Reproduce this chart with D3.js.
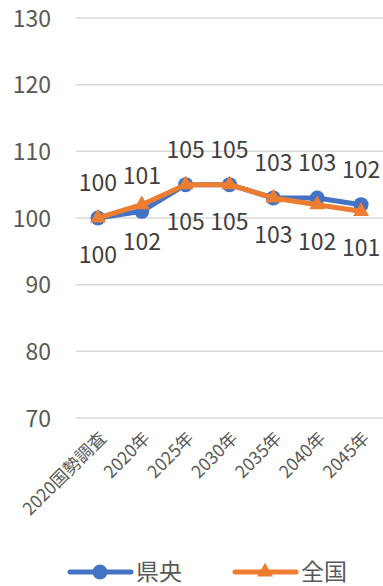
<!DOCTYPE html>
<html>
<head>
<meta charset="utf-8">
<script src="https://cdn.jsdelivr.net/npm/d3@7"></script>
<style>
  html, body { margin: 0; padding: 0; background: #ffffff; }
  svg { display: block; }
  text { font-family: "Noto Sans CJK JP", "Noto Sans", sans-serif; }
</style>
</head>
<body>
<svg id="chart" width="383" height="586"></svg>
<script>
// Categories along the x axis
const categories = ["2020国勢調査", "2020年", "2025年", "2030年", "2035年", "2040年", "2045年"];
// Index values per series
const kenouValues = [100, 101, 105, 105, 103, 103, 102];
const zenkokuValues = [100, 102, 105, 105, 103, 102, 101];
const seriesNames = ["県央", "全国"];
// Y axis ticks
const yTicks = [70, 80, 90, 100, 110, 120, 130];

const W = 383, H = 586;
const plot = { left: 76, right: 383, top: 18, bottom: 418 };
const blue = "#4472C4", orange = "#ED7D31";

const svg = d3.select("#chart");

const x = d3.scaleBand().domain(categories).range([plot.left, plot.right]);
const y = d3.scaleLinear().domain([70, 130]).range([plot.bottom, plot.top]);
const cx = c => x(c) + x.bandwidth() / 2;

// Horizontal gridlines
svg.append("g")
  .selectAll("line")
  .data(yTicks)
  .join("line")
  .attr("x1", plot.left).attr("x2", plot.right)
  .attr("y1", d => y(d)).attr("y2", d => y(d))
  .attr("stroke", "#d9d9d9").attr("stroke-width", 1.5);

// Y axis labels
const yAxis = d3.axisLeft(y).tickValues(yTicks).tickSize(0).tickPadding(0);
const yg = svg.append("g").attr("transform", "translate(51,0)").call(yAxis);
yg.select(".domain").remove();
yg.selectAll("text")
  .attr("font-family", "'Noto Sans CJK JP', sans-serif")
  .attr("font-size", 23)
  .attr("fill", "#595959")
  .attr("dy", "0.35em");

// X axis labels, rotated
const xAxis = d3.axisBottom(x).tickSize(0).tickPadding(0);
const xg = svg.append("g").call(xAxis);
xg.select(".domain").remove();
xg.selectAll(".tick").attr("transform", d => `translate(${cx(d) + 5},435)`);
xg.selectAll("text")
  .attr("font-family", "'Noto Sans CJK JP', sans-serif")
  .attr("font-size", 17.5)
  .attr("fill", "#595959")
  .attr("text-anchor", "end")
  .attr("dy", "0.35em")
  .attr("y", 0)
  .attr("transform", "rotate(-45)");

const line = d3.line().x((d, i) => cx(categories[i])).y(d => y(d));

function drawSeries(values, color, marker) {
  const g = svg.append("g");
  g.append("path")
    .datum(values)
    .attr("d", line)
    .attr("fill", "none")
    .attr("stroke", color)
    .attr("stroke-width", 5)
    .attr("stroke-linejoin", "round");
  if (marker === "circle") {
    g.selectAll("circle")
      .data(values)
      .join("circle")
      .attr("cx", (d, i) => cx(categories[i]))
      .attr("cy", d => y(d))
      .attr("r", 7.5)
      .attr("fill", color);
  } else {
    const tri = d3.symbol().type(d3.symbolTriangle).size(110);
    g.selectAll("path.m")
      .data(values)
      .join("path")
      .attr("class", "m")
      .attr("d", tri)
      .attr("transform", (d, i) => `translate(${cx(categories[i])},${y(d)})`)
      .attr("fill", color);
  }
}

drawSeries(kenouValues, blue, "circle");
drawSeries(zenkokuValues, orange, "triangle");

// Data labels: 県央 above, 全国 below
function drawLabels(values, offset) {
  svg.append("g")
    .selectAll("text")
    .data(values)
    .join("text")
    .attr("x", (d, i) => cx(categories[i]))
    .attr("y", d => y(d) + offset)
    .attr("dy", "0.35em")
    .attr("text-anchor", "middle")
    .attr("font-size", 23)
    .attr("fill", "#404040")
    .text(d => d);
}
drawLabels(kenouValues, -35);
drawLabels(zenkokuValues, 37);

// Legend
const legendY = 572;
const legend = svg.append("g");
const items = [
  { name: seriesNames[0], color: blue, marker: "circle", x0: 70 },
  { name: seriesNames[1], color: orange, marker: "triangle", x0: 235 }
];
items.forEach(it => {
  legend.append("line")
    .attr("x1", it.x0).attr("x2", it.x0 + 61)
    .attr("y1", legendY).attr("y2", legendY)
    .attr("stroke", it.color).attr("stroke-width", 5)
    .attr("stroke-linecap", "round");
  if (it.marker === "circle") {
    legend.append("circle")
      .attr("cx", it.x0 + 30).attr("cy", legendY).attr("r", 7.5)
      .attr("fill", it.color);
  } else {
    legend.append("path")
      .attr("d", d3.symbol().type(d3.symbolTriangle).size(110)())
      .attr("transform", `translate(${it.x0 + 30},${legendY})`)
      .attr("fill", it.color);
  }
  legend.append("text")
    .attr("x", it.x0 + 66)
    .attr("y", legendY)
    .attr("dy", "0.34em")
    .attr("font-size", 23)
    .attr("fill", "#595959")
    .text(it.name);
});
</script>
</body>
</html>
